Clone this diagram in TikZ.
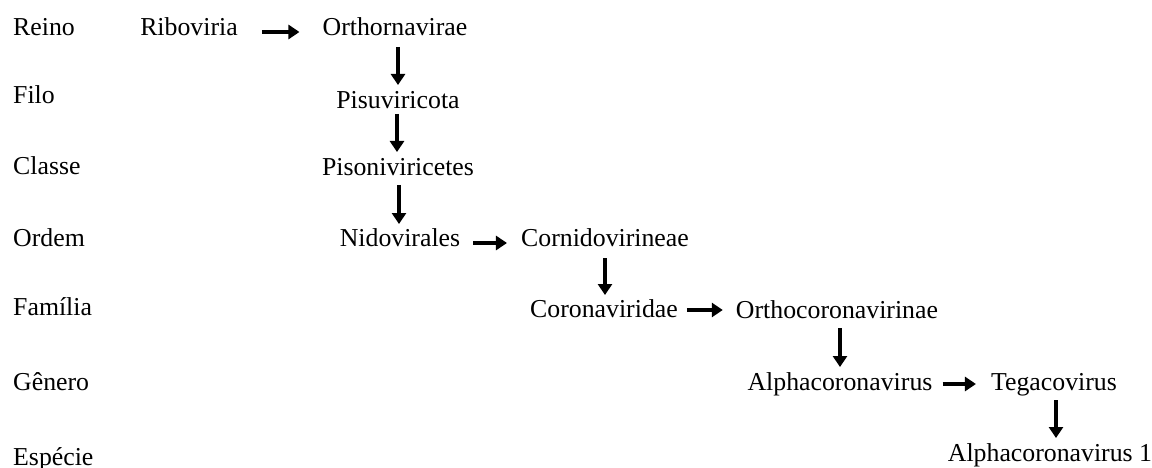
\documentclass[tikz,border=0pt]{standalone}
\usepackage{fontspec}
\setmainfont{Liberation Serif}
\usetikzlibrary{arrows.meta,calc}
\begin{document}
\begin{tikzpicture}[x=1pt,y=-1pt,
  lbl/.style={anchor=base west,inner sep=0pt,font=\fontsize{25.8}{30}\selectfont},
  tx/.style={anchor=base,inner sep=0pt,font=\fontsize{25.8}{30}\selectfont},
  arr/.style={line width=3.3pt,-{Triangle[length=11pt,width=14pt]}}]
\useasboundingbox[fill=white] (0,0) rectangle (1152,468);
% rank labels
\node[lbl] (reino) at (13,36) {Reino};
\node[lbl] (filo) at (13,104) {Filo};
\node[lbl] (classe) at (13,175) {Classe};
\node[lbl] (ordem) at (13,247) {Ordem};
\node[lbl] (familia) at (13,315) {Família};
\node[lbl] (genero) at (13,390) {Gênero};
\node[lbl] (especie) at (13,465) {Espécie};
% taxa
\node[tx] (ribo) at (189,36) {Riboviria};
\node[tx] (orth) at (395,36) {Orthornavirae};
\node[tx] (pisu) at (398,109) {Pisuviricota};
\node[tx] (piso) at (398,176) {Pisoniviricetes};
\node[tx] (nido) at (400,247) {Nidovirales};
\node[tx] (corn) at (605,247) {Cornidovirineae};
\node[tx] (coro) at (604,317) {Coronaviridae};
\node[tx] (ortc) at (837,318) {Orthocoronavirinae};
\node[tx] (alph) at (840,390) {Alphacoronavirus};
\node[tx] (tega) at (1054,390) {Tegacovirus};
\node[tx] (alp1) at (1050,461) {Alphacoronavirus 1};
% horizontal arrows
\draw[arr] ($(ribo.base east)+(24,-4)$) -- ($(orth.base west)+(-23,-4)$);
\draw[arr] ($(nido.base east)+(13,-4)$) -- ($(corn.base west)+(-14,-4)$);
\draw[arr] ($(coro.base east)+(9,-7)$) -- ($(ortc.base west)+(-13,-8)$);
\draw[arr] ($(alph.base east)+(10,-6)$) -- ($(tega.base west)+(-15,-6)$);
% vertical arrows
\draw[arr] ($(orth.base)+(3,11)$) -- ($(orth.base |- pisu.base)+(3,-24)$);
\draw[arr] ($(pisu.base)+(-1,5)$) -- ($(pisu.base |- piso.base)+(-1,-24)$);
\draw[arr] ($(piso.base)+(1,9)$) -- ($(piso.base |- nido.base)+(1,-23)$);
\draw[arr] ($(corn.base)+(0,11)$) -- ($(corn.base |- coro.base)+(0,-22)$);
\draw[arr] ($(ortc.base)+(3,10)$) -- ($(ortc.base |- alph.base)+(3,-23)$);
\draw[arr] ($(tega.base)+(2,10)$) -- ($(tega.base |- alp1.base)+(2,-23)$);
\end{tikzpicture}
\end{document}
